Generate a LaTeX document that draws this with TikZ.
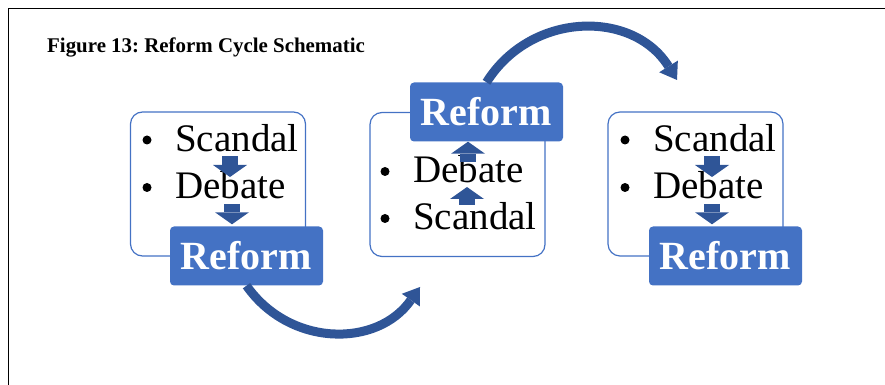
\documentclass[tikz,border=0pt]{standalone}
\usepackage{fontspec}
\setmainfont{Liberation Serif}
\usepackage{xcolor}
\definecolor{boxblue}{HTML}{4472C4}
\definecolor{arrowblue}{HTML}{2F5597}
\usetikzlibrary{arrows.meta,positioning,shapes,calc}
\tikzset{
  cyclebox/.style = {draw = boxblue, line width = 1.2pt, rounded corners = 12pt, minimum width = 175pt, minimum height = 144pt, inner sep = 0pt},
  reformbox/.style = {fill = boxblue, rounded corners = 4pt, minimum width = 153pt, minimum height = 59pt, inner sep = 0pt, text = white, font = \bfseries\fontsize{40}{40}\selectfont},
  listitem/.style = {anchor = base west, inner sep = 0pt, font = \fontsize{39}{39}\selectfont},
  bul/.style = {circle, fill = black, minimum size = 9pt, inner sep = 0pt},
  smallarrow/.style = {arrowblue, line width = 16pt, -{Triangle[width = 34pt, length = 12pt, line width = 0pt]}},
  bigarrow/.style = {arrowblue, line width = 9pt, -{Triangle[width = 22pt, length = 16pt, line width = 0pt]}}
}

\begin{document}
\begin{tikzpicture}[x = 1pt, y = 1pt]
\useasboundingbox (0,0) rectangle (885,385);
\draw[line width = .8pt] (8,0) -- (8,377) -- (885,377);
\node[anchor = base west, inner sep = 0pt, font = \bfseries\fontsize{20.9}{22}\selectfont\frenchspacing] (title) at (47,332) {Figure 13: Reform Cycle Schematic};
% first cycle
\node[cyclebox] (boxA) at (218,201) {};
\node[reformbox] (refA) at (246.5,129) {Reform};
\node[listitem] (scanA) at (175,233.5) {Scandal};
\node[listitem] (debA) at (175,186) {Debate};
\node[bul] (bulA1) at ($(scanA.base west)+(-28,11.5)$) {};
\node[bul] (bulA2) at ($(debA.base west)+(-28,11.5)$) {};
\draw[smallarrow] ($(scanA.base west)+(55,-5)$) -- ($(debA.base west)+(55,22)$);
\draw[smallarrow] ($(debA.base west)+(57,-5)$) -- ($(refA.north)+(-14.5,2)$);
% second cycle
\node[cyclebox] (boxB) at (457.5,200.5) {};
\node[reformbox] (refB) at (486.5,273) {Reform};
\node[listitem] (debB) at (413,202.5) {Debate};
\node[listitem] (scanB) at (413,155) {Scandal};
\node[bul] (bulB1) at ($(debB.base west)+(-28,11)$) {};
\node[bul] (bulB2) at ($(scanB.base west)+(-28,11.5)$) {};
\draw[smallarrow] ($(debB.base west)+(55,20)$) -- ($(refB.south)+(-18.5,0)$);
\draw[smallarrow] ($(scanB.base west)+(54,25)$) -- ($(debB.base west)+(54,-4.5)$);
% third cycle
\node[cyclebox] (boxC) at (695.5,201) {};
\node[reformbox] (refC) at (725.5,129) {Reform};
\node[listitem] (scanC) at (653,233.5) {Scandal};
\node[listitem] (debC) at (653,186) {Debate};
\node[bul] (bulC1) at ($(scanC.base west)+(-28,11.5)$) {};
\node[bul] (bulC2) at ($(debC.base west)+(-28,11.5)$) {};
\draw[smallarrow] ($(scanC.base west)+(59,-5)$) -- ($(debC.base west)+(59,22)$);
\draw[smallarrow] ($(debC.base west)+(59,-5)$) -- ($(refC.north)+(-13.5,2)$);
% links between cycles
\coordinate (tipA) at (420,98);
\coordinate (tipB) at (677,305);
\draw[bigarrow] (refA.south) to[out = -55, in = -125, looseness = 1.1] (tipA);
\draw[bigarrow] (refB.north) to[out = 58, in = 122, looseness = 1.12] (tipB);
\end{tikzpicture}
\end{document}
